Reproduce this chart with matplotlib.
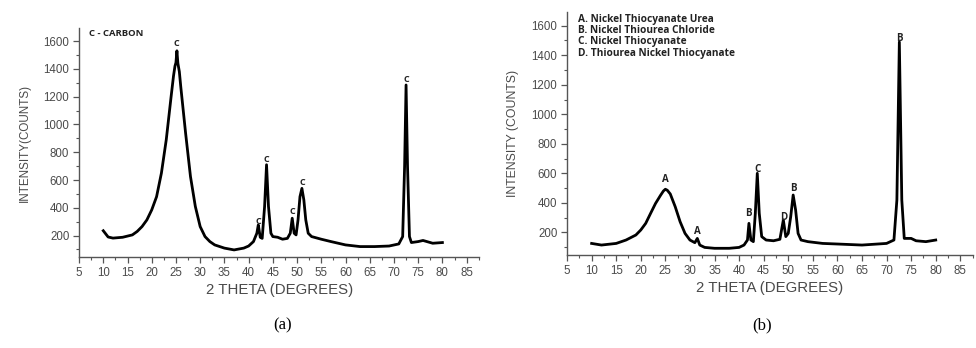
import matplotlib
matplotlib.use("Agg")
import matplotlib.pyplot as plt
from matplotlib.ticker import MultipleLocator

# (a) carbon pattern
theta_a = [10, 11, 12, 14, 16, 17, 18, 19, 20, 21, 22, 23, 24, 24.5, 24.8, 25, 25.2, 25.4, 25.7, 26, 27, 28,
           29, 30, 31, 32, 33, 35, 37, 39, 40, 41, 41.7, 42, 42.4, 42.8, 43.3, 43.7, 44.1, 44.6, 45, 46, 47,
           48, 48.6, 49, 49.4, 49.8, 50.2, 50.6, 51, 51.4, 51.8, 52.3, 53, 55, 57, 60, 63, 66, 69, 71, 71.8,
           72.2, 72.5, 72.8, 73.2, 73.6, 75, 76, 78, 80]
counts_a = [235, 190, 182, 188, 205, 230, 265, 313, 385, 480, 650, 890, 1200, 1350, 1420, 1445, 1530, 1440,
            1380, 1270, 935, 625, 410, 265, 193, 157, 133, 110, 97, 110, 125, 157, 217, 277, 188, 180, 410,
            710, 410, 217, 193, 188, 174, 180, 217, 325, 217, 205, 313, 480, 540, 457, 313, 217, 193, 174,
            157, 133, 121, 121, 125, 140, 193, 700, 1284, 700, 193, 150, 157, 165, 145, 150]
peaks_a_x = [25, 42, 43.7, 49, 51, 72.5]
peaks_a_y = [1580, 300, 745, 375, 580, 1325]
peaks_a_lab = ["C", "C", "C", "C", "C", "C"]

# (b) nickel complexes pattern
theta_b = [10, 12, 15, 17, 19, 20, 21, 22, 23, 24, 24.6, 25, 25.4, 26, 27, 28, 29, 30, 31, 31.5, 32, 33, 35,
           38, 40, 41, 41.7, 42, 42.4, 42.9, 43.3, 43.7, 44.1, 44.6, 45.5, 47, 48.3, 49, 49.5, 50, 50.5, 51,
           51.5, 52, 52.6, 54, 57, 60, 65, 70, 71.5, 72.1, 72.6, 73.1, 73.6, 75, 76, 78, 80]
counts_b = [125, 114, 125, 148, 182, 216, 261, 329, 396, 450, 480, 492, 485, 460, 374, 272, 193, 148, 130,
            159, 114, 98, 92, 92, 98, 114, 148, 261, 148, 137, 329, 600, 329, 171, 148, 143, 153, 284, 171,
            193, 306, 453, 351, 193, 148, 137, 125, 121, 114, 125, 148, 419, 1490, 419, 159, 159, 143, 137,
            148]
peaks_b_x = [25, 31.6, 41.8, 43.8, 49.1, 51, 72.6]
peaks_b_y = [555, 205, 328, 625, 298, 500, 1510]
peaks_b_lab = ["A", "A", "B", "C", "D", "B", "B"]

legend_b = ["A. Nickel Thiocyanate Urea", "B. Nickel Thiourea Chloride",
            "C. Nickel Thiocyanate", "D. Thiourea Nickel Thiocyanate"]

grey = "#4a4a4a"
plt.rcParams['font.family'] = ['Liberation Sans', 'DejaVu Sans']

fig = plt.figure(figsize=(9.76, 3.48), dpi=100)
ax1 = fig.add_axes([0.081, 0.2615, 0.41, 0.658])
ax2 = fig.add_axes([0.581, 0.267, 0.416, 0.699])


def style(ax, ylabel, ysize):
    ax.set_xlim(5, 87.6)
    ax.set_ylim(46, 1694)
    ax.spines['top'].set_visible(False)
    ax.spines['right'].set_visible(False)
    for s in ('left', 'bottom'):
        ax.spines[s].set_color("#555555")
        ax.spines[s].set_linewidth(1.0)
    ax.xaxis.set_major_locator(MultipleLocator(5))
    ax.xaxis.set_minor_locator(MultipleLocator(2.5))
    ax.set_yticks([200, 400, 600, 800, 1000, 1200, 1400, 1600])
    ax.yaxis.set_minor_locator(MultipleLocator(100))
    ax.tick_params(which='major', length=4, width=0.9, color="#555555", labelsize=8.3,
                   labelcolor=grey, pad=3)
    ax.tick_params(which='minor', length=2, width=0.8, color="#555555")
    ax.set_xlabel("2 THETA (DEGREES)", fontsize=10.8, color=grey, labelpad=3)
    ax.set_ylabel(ylabel, fontsize=ysize, color=grey, labelpad=9)


ax1.plot(theta_a, counts_a, color="black", lw=2.0, solid_joinstyle='round')
for x, y, t in zip(peaks_a_x, peaks_a_y, peaks_a_lab):
    ax1.text(x, y, t, fontsize=6.5, fontweight='bold', color="#222222", ha='center', va='center',
             family='Open Sans')
ax1.text(7.0, 1655, "C - CARBON", fontsize=6.8, fontweight='bold', color="#222222",
         family='Open Sans', va='center')
style(ax1, "INTENSITY(COUNTS)", 8.4)

ax2.plot(theta_b, counts_b, color="black", lw=2.0, solid_joinstyle='round')
for x, y, t in zip(peaks_b_x, peaks_b_y, peaks_b_lab):
    ax2.text(x, y, t, fontsize=7, fontweight='bold', color="#222222", ha='center', va='center',
             family='Open Sans')
for i, line in enumerate(legend_b):
    ax2.text(7.3, 1645 - i * 77, line, fontsize=7.3, fontweight='bold', color="#222222",
             family='Open Sans', va='center')
style(ax2, "INTENSITY (COUNTS)", 8.8)

fig.text(0.29, 0.065, "(a)", fontsize=12, family='Liberation Serif', ha='center', va='center')
fig.text(0.781, 0.065, "(b)", fontsize=12, family='Liberation Serif', ha='center', va='center')

fig.savefig("out.png", dpi=100)
